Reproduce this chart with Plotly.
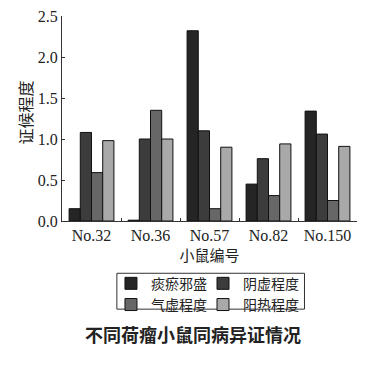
import plotly.graph_objects as go

categories = ["No.32", "No.36", "No.57", "No.82", "No.150"]
series_names = ["痰瘀邪盛", "阴虚程度", "气虚程度", "阳热程度"]
tanyu = [0.15, 0.01, 2.32, 0.45, 1.34]
yinxu = [1.08, 1.00, 1.10, 0.76, 1.06]
qixu = [0.59, 1.35, 0.15, 0.31, 0.25]
yangre = [0.98, 1.00, 0.90, 0.94, 0.91]
y_ticks = [0.0, 0.5, 1.0, 1.5, 2.0, 2.5]
y_tick_labels = ["0.0", "0.5", "1.0", "1.5", "2.0", "2.5"]

colors = ["#252525", "#3c3c3c", "#676767", "#a9a9a9"]
values = [tanyu, yinxu, qixu, yangre]
legend_ids = ["legend", "legend2", "legend", "legend2"]

fig = go.Figure()
for name, vals, col, lg in zip(series_names, values, colors, legend_ids):
    fig.add_trace(go.Bar(
        x=categories, y=vals, name=name, legend=lg,
        marker=dict(color=col, line=dict(color="#111111", width=1)),
    ))

serif = "'Times New Roman', 'Liberation Serif', serif"
cjk = "Noto Sans CJK SC"
legend_font = dict(family=cjk, size=14, color="#222222")

fig.update_layout(
    width=376, height=369,
    margin=dict(l=54, r=27, t=8, b=156, autoexpand=False),
    paper_bgcolor="white", plot_bgcolor="white",
    barmode="group", bargap=0.24, bargroupgap=0,
    showlegend=True,
    legend=dict(
        orientation="v", x=0.166, xanchor="left", y=-0.228, yanchor="top",
        bgcolor="rgba(0,0,0,0)", borderwidth=0, font=legend_font,
        itemwidth=30, tracegroupgap=0,
    ),
    legend2=dict(
        orientation="v", x=0.478, xanchor="left", y=-0.228, yanchor="top",
        bgcolor="rgba(0,0,0,0)", borderwidth=0, font=legend_font,
        itemwidth=30, tracegroupgap=0,
    ),
    shapes=[dict(
        type="rect", xref="paper", yref="paper",
        x0=0.186, x1=0.822, y0=-0.255, y1=-0.43,
        line=dict(color="#333333", width=1), fillcolor="rgba(0,0,0,0)",
    )],
    xaxis=dict(
        showline=True, linecolor="#333333", linewidth=1,
        ticks="inside", tickson="boundaries", ticklen=3, tickcolor="#333333",
        tickfont=dict(family=serif, size=16, color="#222222"),
        title=dict(text="小鼠编号", font=dict(family=cjk, size=15, color="#222222"), standoff=3),
    ),
    yaxis=dict(
        range=[0, 2.5], tickvals=y_ticks, ticktext=y_tick_labels,
        showline=True, linecolor="#333333", linewidth=1,
        ticks="inside", ticklen=3, tickcolor="#333333",
        showgrid=False, zeroline=False, ticklabeloverflow="allow",
        tickfont=dict(family=serif, size=16, color="#222222"),
    ),
    annotations=[
        dict(
            text="证候程度", showarrow=False, textangle=-90,
            xref="paper", yref="paper", x=-0.125, xanchor="center", y=0.53, yanchor="middle",
            font=dict(family=cjk, size=16, color="#222222"),
        ),
        dict(
            text="<b>不同荷瘤小鼠同病异证情况</b>", showarrow=False,
            xref="paper", yref="paper", x=0.444, xanchor="center", y=-0.553, yanchor="middle",
            font=dict(family=cjk, size=18, color="#222222"),
        ),
    ],
)

fig.write_html("out.html")
